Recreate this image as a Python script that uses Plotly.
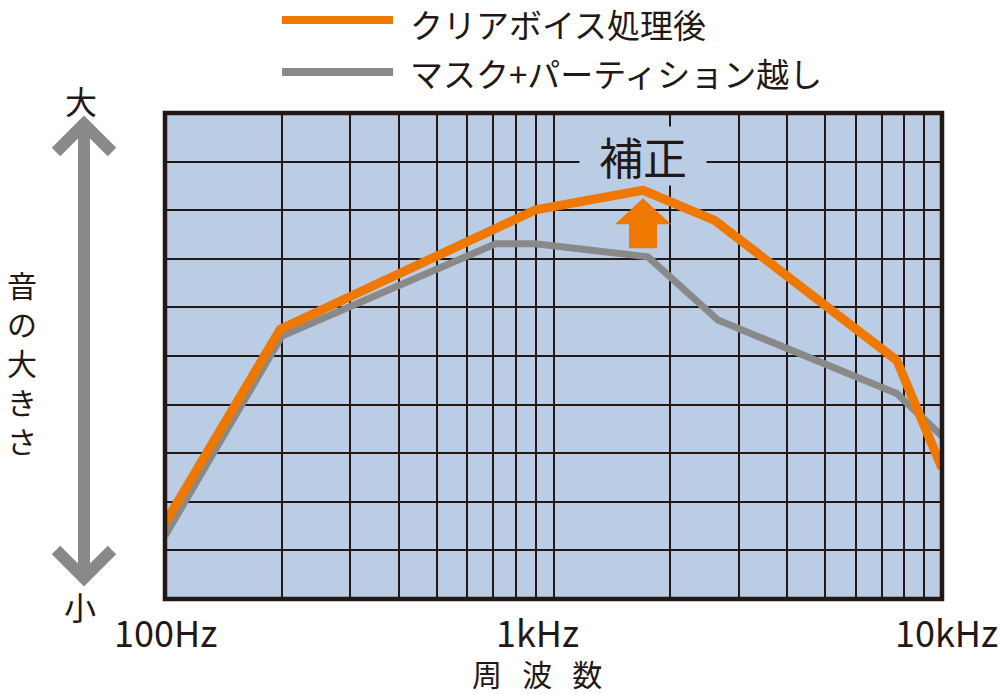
import math
import plotly.graph_objects as go

# ---- data ----
FREQ_ORANGE = [100, 198, 900, 1700, 2600, 7650, 10000]
LEVEL_ORANGE = [1.56, 5.55, 8.01, 8.41, 7.79, 4.91, 2.69]
FREQ_GRAY = [100, 200, 710, 900, 1750, 2650, 7650, 10000]
LEVEL_GRAY = [1.30, 5.41, 7.31, 7.31, 7.04, 5.74, 4.23, 3.35]
SERIES_NAMES = ["クリアボイス処理後", "マスク+パーティション越し"]
GRID_FREQS = [100, 200, 300, 400, 500, 600, 700, 800, 900,
              1000, 2000, 3000, 4000, 5000, 6000, 7000, 8000, 9000, 10000]
TICK_FREQS = [100, 1000, 10000]
TICK_LABELS = ["100Hz", "1kHz", "10kHz"]
TICK_SHIFT = [0, -16, 4]
X_TITLE = "周   波   数"
Y_TITLE = "音の大きさ"
Y_TOP, Y_BOTTOM = "大", "小"
PEAK_LABEL = "補正"

ORANGE = "#EE7800"
GRAY = "#898989"
INK = "#231815"
BG = "#BBCDE5"
FONT = "Noto Sans CJK JP"

W, H = 1000, 694
L, R, T, B = 165, 58, 113, 95
PW, PH = W - L - R, H - T - B


def px(x):
    return (x - L) / PW


def py(y):
    return (H - B - y) / PH


fig = go.Figure()
fig.add_trace(go.Scatter(x=FREQ_GRAY, y=LEVEL_GRAY, mode="lines",
                         line=dict(color=GRAY, width=7), name=SERIES_NAMES[1],
                         showlegend=False))
fig.add_trace(go.Scatter(x=FREQ_ORANGE, y=LEVEL_ORANGE, mode="lines",
                         line=dict(color=ORANGE, width=9), name=SERIES_NAMES[0],
                         showlegend=False))

shapes = []
# plot frame
shapes.append(dict(type="rect", xref="paper", yref="paper", x0=0, x1=1, y0=0, y1=1,
                   line=dict(color=INK, width=4.5), layer="above"))
# legend swatches
shapes.append(dict(type="line", xref="paper", yref="paper", x0=px(282), x1=px(393),
                   y0=py(20), y1=py(20), line=dict(color=ORANGE, width=8)))
shapes.append(dict(type="line", xref="paper", yref="paper", x0=px(282), x1=px(393),
                   y0=py(72), y1=py(72), line=dict(color=GRAY, width=8)))
# big double arrow on the left
shapes.append(dict(type="line", xref="paper", yref="paper", x0=px(84), x1=px(84),
                   y0=py(128), y1=py(574), line=dict(color=GRAY, width=12)))
shapes.append(dict(type="path", xref="paper", yref="paper",
                   path=f"M {px(56)},{py(152)} L {px(84)},{py(124)} L {px(112)},{py(152)}",
                   line=dict(color=GRAY, width=12)))
shapes.append(dict(type="path", xref="paper", yref="paper",
                   path=f"M {px(56)},{py(550)} L {px(84)},{py(578)} L {px(112)},{py(550)}",
                   line=dict(color=GRAY, width=12)))
# orange block arrow under the peak (pixel offsets from the peak point)
pk = LEVEL_ORANGE.index(max(LEVEL_ORANGE))
shapes.append(dict(type="path", xref="x", yref="y", xsizemode="pixel", ysizemode="pixel",
                   xanchor=FREQ_ORANGE[pk], yanchor=LEVEL_ORANGE[pk],
                   path="M 0,-8 L 28,-34 L 14,-34 L 14,-58 L -14,-58 L -14,-34 L -28,-34 Z",
                   fillcolor=ORANGE, line=dict(width=0)))

ann = []
# legend labels
ann.append(dict(xref="paper", yref="paper", x=px(408), y=py(24), xanchor="left",
                yanchor="middle", text=SERIES_NAMES[0], showarrow=False,
                font=dict(size=33, color=INK)))
ann.append(dict(xref="paper", yref="paper", x=px(408), y=py(73), xanchor="left",
                yanchor="middle", text=SERIES_NAMES[1], showarrow=False,
                font=dict(size=33, color=INK)))
# x tick labels
for f, t, s in zip(TICK_FREQS, TICK_LABELS, TICK_SHIFT):
    ann.append(dict(xref="x", yref="paper", x=math.log10(f), y=py(631), xshift=s,
                    xanchor="center", yanchor="middle", text=t, showarrow=False,
                    font=dict(size=36, color=INK)))
# x title
ann.append(dict(xref="paper", yref="paper", x=px(537), y=py(673), xanchor="center",
                yanchor="middle", text=X_TITLE, showarrow=False,
                font=dict(size=30, color=INK)))
# y title (vertical, one character per line) and ends
for i, ch in enumerate(Y_TITLE):
    ann.append(dict(xref="paper", yref="paper", x=px(22), y=py(284 + 39 * i),
                    xanchor="center", yanchor="middle", text=ch, showarrow=False,
                    font=dict(size=30, color=INK)))
ann.append(dict(xref="paper", yref="paper", x=px(81), y=py(100), xanchor="center",
                yanchor="middle", text=Y_TOP, showarrow=False,
                font=dict(size=32, color=INK)))
ann.append(dict(xref="paper", yref="paper", x=px(80), y=py(606), xanchor="center",
                yanchor="middle", text=Y_BOTTOM, showarrow=False,
                font=dict(size=32, color=INK)))
# peak label with background box covering the grid
ann.append(dict(xref="x", yref="y", x=math.log10(FREQ_ORANGE[pk]), y=LEVEL_ORANGE[pk],
                yshift=4, xanchor="center", yanchor="bottom", text=PEAK_LABEL,
                showarrow=False, bgcolor=BG, width=124, height=56,
                font=dict(size=44, color=INK)))

fig.update_layout(
    width=W, height=H,
    margin=dict(l=L, r=R, t=T, b=B, pad=0),
    paper_bgcolor="white", plot_bgcolor=BG,
    font=dict(family=FONT, color=INK),
    shapes=shapes, annotations=ann,
    showlegend=False,
)
fig.update_xaxes(type="log", range=[2, 4], tickvals=GRID_FREQS, showticklabels=False,
                 ticks="", showgrid=True, gridcolor=INK, gridwidth=1.6,
                 zeroline=False, showline=False)
fig.update_yaxes(range=[0, 10], dtick=1, tick0=0, showticklabels=False, ticks="",
                 showgrid=True, gridcolor=INK, gridwidth=1.6, zeroline=False,
                 showline=False)

fig.write_html("out.html")
